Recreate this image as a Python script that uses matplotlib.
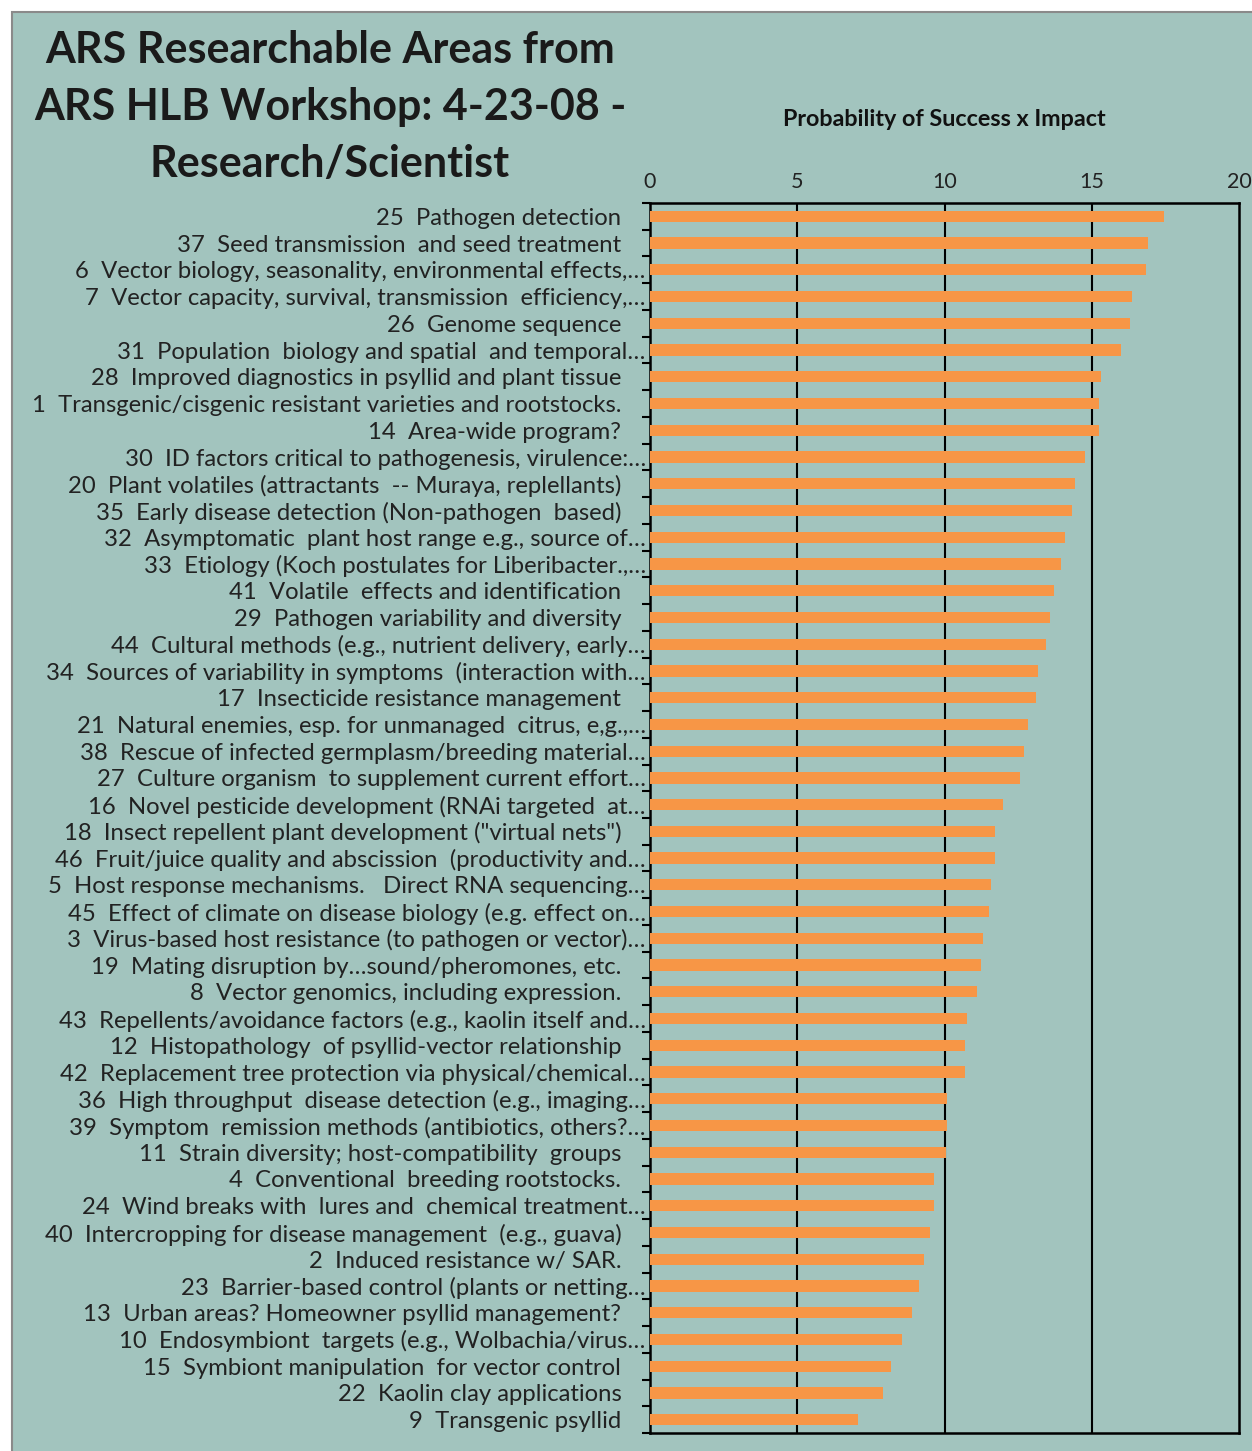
import numpy as np
import matplotlib.pyplot as plt
from matplotlib.patches import Rectangle

plt.rcParams['font.family'] = ['Lato', 'DejaVu Sans']

# research areas, top to bottom
areas = [
    "25  Pathogen detection    ",
    "37  Seed transmission  and seed treatment    ",
    "6  Vector biology, seasonality, environmental effects,\u2026",
    "7  Vector capacity, survival, transmission  efficiency,\u2026",
    "26  Genome sequence    ",
    "31  Population  biology and spatial  and temporal\u2026",
    "28  Improved diagnostics in psyllid and plant tissue    ",
    "1  Transgenic/cisgenic resistant varieties and rootstocks.    ",
    "14  Area-wide program?    ",
    "30  ID factors critical to pathogenesis, virulence:\u2026",
    "20  Plant volatiles (attractants  -- Muraya, replellants)    ",
    "35  Early disease detection (Non-pathogen  based)    ",
    "32  Asymptomatic  plant host range e.g., source of\u2026",
    "33  Etiology (Koch postulates for Liberibacter.,\u2026",
    "41  Volatile  effects and identification    ",
    "29  Pathogen variability and diversity    ",
    "44  Cultural methods (e.g., nutrient delivery, early\u2026",
    "34  Sources of variability in symptoms  (interaction with\u2026",
    "17  Insecticide resistance management    ",
    "21  Natural enemies, esp. for unmanaged  citrus, e,g.,\u2026",
    "38  Rescue of infected germplasm/breeding material\u2026",
    "27  Culture organism  to supplement current effort\u2026",
    "16  Novel pesticide development (RNAi targeted  at\u2026",
    "18  Insect repellent plant development (\"virtual nets\")    ",
    "46  Fruit/juice quality and abscission  (productivity and\u2026",
    "5  Host response mechanisms.   Direct RNA sequencing\u2026",
    "45  Effect of climate on disease biology (e.g. effect on\u2026",
    "3  Virus-based host resistance (to pathogen or vector)\u2026",
    "19  Mating disruption by\u2026sound/pheromones, etc.    ",
    "8  Vector genomics, including expression.    ",
    "43  Repellents/avoidance factors (e.g., kaolin itself and\u2026",
    "12  Histopathology  of psyllid-vector relationship    ",
    "42  Replacement tree protection via physical/chemical\u2026",
    "36  High throughput  disease detection (e.g., imaging\u2026",
    "39  Symptom  remission methods (antibiotics, others?\u2026",
    "11  Strain diversity; host-compatibility  groups    ",
    "4  Conventional  breeding rootstocks.    ",
    "24  Wind breaks with  lures and  chemical treatment\u2026",
    "40  Intercropping for disease management  (e.g., guava)    ",
    "2  Induced resistance w/ SAR.    ",
    "23  Barrier-based control (plants or netting\u2026",
    "13  Urban areas? Homeowner psyllid management?    ",
    "10  Endosymbiont  targets (e.g., Wolbachia/virus\u2026",
    "15  Symbiont manipulation  for vector control    ",
    "22  Kaolin clay applications    ",
    "9  Transgenic psyllid    ",
]

scores = [17.45, 16.91, 16.84, 16.36, 16.30, 15.98, 15.32, 15.25, 15.25, 14.78,
          14.43, 14.32, 14.10, 13.97, 13.71, 13.58, 13.44, 13.17, 13.11, 12.85,
          12.70, 12.57, 11.99, 11.71, 11.71, 11.58, 11.51, 11.32, 11.24, 11.10,
          10.77, 10.71, 10.71, 10.10, 10.10, 10.05, 9.64, 9.64, 9.52, 9.31,
          9.12, 8.91, 8.57, 8.17, 7.90, 7.05]

bg = '#a2c4be'
bar_col = '#f79646'

fig = plt.figure(figsize=(12.52, 14.51), dpi=100, facecolor='white')
# slide panel with thin grey edge, kept behind the axes
fig.patches.append(Rectangle((12 / 1252, -0.01), 1.1, 1 - 12 / 1451 + 0.01,
                             transform=fig.transFigure, facecolor=bg,
                             edgecolor='#8a8a8a', linewidth=1.5, zorder=-10))

ax = fig.add_axes([650 / 1252, 1 - 1433 / 1451, 589 / 1252, (1433 - 203) / 1451])
ax.set_facecolor(bg)

y = np.arange(len(areas))
ax.barh(y, scores, height=0.42, color=bar_col, zorder=3)

ax.set_xlim(0, 20)
ax.set_ylim(len(areas) - 0.5, -0.5)

ax.xaxis.tick_top()
ax.set_xticks([0, 5, 10, 15, 20])
ax.tick_params(axis='x', length=0, pad=8, labelsize=15.5, labelcolor='#222222')
for v in [5, 10, 15]:
    ax.axvline(v, color='black', linewidth=1.5, zorder=2)

# category boundaries get the tick marks, names sit in between
ax.set_yticks(np.arange(len(areas) + 1) - 0.5)
ax.set_yticklabels([])
ax.tick_params(axis='y', which='major', length=6, width=1.5, direction='out')
ax.set_yticks(y, minor=True)
ax.set_yticklabels(areas, minor=True)
ax.tick_params(axis='y', which='minor', length=0, pad=3, labelsize=17.2, labelcolor='#222222')

for s in ax.spines.values():
    s.set_linewidth(1.8)
    s.set_color('black')

fig.text(944 / 1252, 1 - 119 / 1451, 'Probability of Success x Impact',
         ha='center', va='center', fontsize=16.8, fontweight='bold', color='#111111')

fig.text(330 / 1252, 1 - 107 / 1451,
         'ARS Researchable Areas from\nARS HLB Workshop: 4-23-08 -\nResearch/Scientist',
         ha='center', va='center', fontsize=31, fontweight='bold',
         linespacing=1.53, color='#1a1a1a')

plt.savefig('out.png', dpi=100, facecolor=fig.get_facecolor())
